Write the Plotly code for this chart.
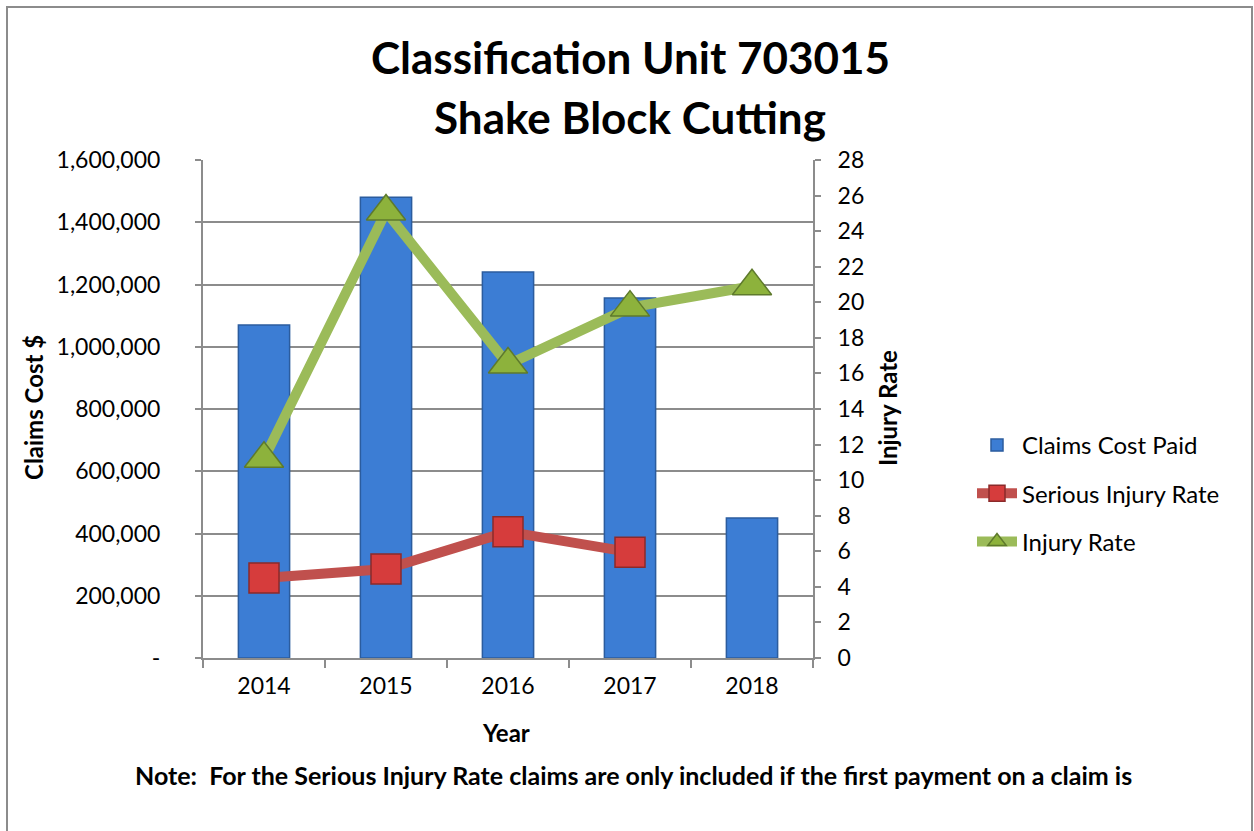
import plotly.graph_objects as go

years = ["2014", "2015", "2016", "2017", "2018"]
claims_cost = [1070000, 1480000, 1240000, 1157000, 450000]
serious_injury_rate = [4.5, 5.0, 7.1, 5.95, None]
injury_rate = [11.2, 25.1, 16.5, 19.7, 20.9]

left_tickvals = [0, 200000, 400000, 600000, 800000, 1000000, 1200000, 1400000, 1600000]
left_ticktext = ["-", "200,000", "400,000", "600,000", "800,000", "1,000,000", "1,200,000", "1,400,000", "1,600,000"]

FONT = "Lato, 'Open Sans', sans-serif"
W, H = 1254, 831
L, R, T, B = 203, 813, 160, 658

fig = go.Figure()
fig.add_trace(go.Bar(
    x=years, y=claims_cost, name="Claims Cost Paid",
    marker=dict(color="#3C7DD4", line=dict(color="#2B5C9E", width=1.5)),
    width=0.42, yaxis="y", legendgroup="a",
))
fig.add_trace(go.Scatter(
    x=years, y=serious_injury_rate, name="Serious Injury Rate",
    mode="lines+markers", yaxis="y2", legendgroup="b",
    line=dict(color="#C0504D", width=10),
    marker=dict(symbol="square", size=30, color="#D63C3C", line=dict(color="#8B2A2A", width=1.5)),
))
fig.add_trace(go.Scatter(
    x=years, y=injury_rate, name="Injury Rate",
    mode="lines+markers", yaxis="y2", legendgroup="c",
    line=dict(color="#9BBB59", width=10),
    marker=dict(symbol="triangle-up", size=34, color="#8DB23C", line=dict(color="#5E7A2C", width=1.5)),
))

def px(xp):
    return (xp - L) / (R - L)

def py(yp):
    return (B - yp) / (B - T)

fig.update_layout(
    width=W, height=H,
    margin=dict(l=L, r=W - R, t=T, b=H - B),
    paper_bgcolor="white", plot_bgcolor="white",
    font=dict(family=FONT, size=22, color="black"),
    showlegend=True,
    legend=dict(x=px(972), y=py(423), xanchor="left", yanchor="top",
                font=dict(size=24), tracegroupgap=14, itemwidth=40,
                bgcolor="rgba(0,0,0,0)"),
    bargap=0.58,
    xaxis=dict(
        type="category", showline=True, linecolor="#8C8C8C", linewidth=2,
        ticks="outside", tickson="boundaries", ticklen=8, tickcolor="#8C8C8C", tickwidth=2,
        tickfont=dict(size=23), showgrid=False, ticklabelstandoff=6,
    ),
    yaxis=dict(
        range=[0, 1600000], tickvals=left_tickvals, ticktext=left_ticktext,
        showline=True, linecolor="#8C8C8C", linewidth=2,
        ticks="outside", ticklen=6, tickcolor="#8C8C8C", tickwidth=2,
        showgrid=True, gridcolor="#8C8C8C", gridwidth=2,
        tickfont=dict(size=23), ticklabelstandoff=30, zeroline=False,
    ),
    yaxis2=dict(
        range=[0, 28], dtick=2, overlaying="y", side="right",
        showline=True, linecolor="#8C8C8C", linewidth=2,
        ticks="outside", ticklen=6, tickcolor="#8C8C8C", tickwidth=2,
        showgrid=False, zeroline=False, tickfont=dict(size=23), ticklabelstandoff=12,
    ),
    shapes=[dict(type="rect", xref="paper", yref="paper",
                 x0=px(7), x1=px(1252), y0=py(840), y1=py(7),
                 line=dict(color="#8C8C8C", width=2), fillcolor="rgba(0,0,0,0)", layer="below")],
    annotations=[
        dict(text="<b>Classification Unit 703015</b>", xref="paper", yref="paper",
             x=px(630), y=py(57), xanchor="center", yanchor="middle", showarrow=False,
             font=dict(size=44)),
        dict(text="<b>Shake Block Cutting</b>", xref="paper", yref="paper",
             x=px(630), y=py(117), xanchor="center", yanchor="middle", showarrow=False,
             font=dict(size=44)),
        dict(text="<b>Claims Cost $</b>", xref="paper", yref="paper",
             x=px(33), y=py(408), xanchor="center", yanchor="middle", showarrow=False,
             textangle=-90, font=dict(size=24)),
        dict(text="<b>Injury Rate</b>", xref="paper", yref="paper",
             x=px(887), y=py(408), xanchor="center", yanchor="middle", showarrow=False,
             textangle=-90, font=dict(size=24)),
        dict(text="<b>Year</b>", xref="paper", yref="paper",
             x=px(506), y=py(732), xanchor="center", yanchor="middle", showarrow=False,
             font=dict(size=24)),
        dict(text="<b>Note:  For the Serious Injury Rate claims are only included if the first payment on a claim is</b>",
             xref="paper", yref="paper",
             x=px(633), y=py(775), xanchor="center", yanchor="middle", showarrow=False,
             font=dict(size=25)),
    ],
)

fig.write_html("out.html", config={"displayModeBar": False},
               post_script="document.body.style.margin='0';document.body.style.overflow='hidden';")
